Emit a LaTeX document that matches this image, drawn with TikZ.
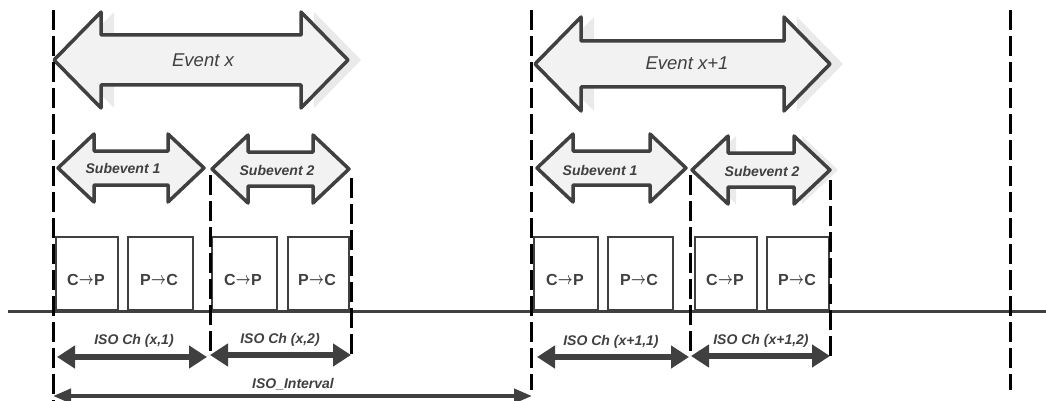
\documentclass[tikz,border=0pt]{standalone}
\usepackage{fontspec}
\setmainfont{Liberation Sans}
\usetikzlibrary{arrows.meta}

\definecolor{ink}{HTML}{404040}
\definecolor{panel}{HTML}{F2F2F2}
\definecolor{shade}{HTML}{EAEAEA}

% Horizontal double-headed block arrow:
% #1 style, #2 left tip x, #3 right tip x, #4 axis y,
% #5 head length, #6 head half-height, #7 shaft half-height
\newcommand{\spanarrow}[7]{%
  \path[#1] (#2,#4) -- (#2+#5,#4-#6) -- (#2+#5,#4-#7) -- (#3-#5,#4-#7)
    -- (#3-#5,#4-#6) -- (#3,#4) -- (#3-#5,#4+#6) -- (#3-#5,#4+#7)
    -- (#2+#5,#4+#7) -- (#2+#5,#4+#6) -- cycle;}

% direction arrow between the two party letters
\newcommand{\flowto}{\kern0.3pt\raisebox{0.06em}{\scalebox{0.75}[1]{\boldmath$\rightarrow$}}\kern0.3pt}

\begin{document}
\begin{tikzpicture}[x=1pt, y=-1pt,
  blockarrow/.style={draw=ink, fill=panel, line width=3.5pt, line join=round},
  blockshadow/.style={fill=shade, xshift=#1},
  eventtext/.style={text=ink, font=\fontsize{18.5}{21}\selectfont\itshape, inner sep=0pt},
  subtext/.style={text=ink, font=\fontsize{14}{16}\selectfont\bfseries\itshape, inner sep=0pt},
  slot/.style={draw=ink, line width=1.8pt, minimum height=73pt, inner sep=0pt, anchor=south west},
  slottext/.style={text=ink, font=\fontsize{16}{18}\selectfont\bfseries, inner sep=0pt},
  isotext/.style={text=ink, font=\fontsize{14}{16}\selectfont\bfseries\itshape, inner sep=0pt},
  boundary/.style={black, line width=3pt, dash pattern=on 20pt off 6pt},
  isoarrow/.style={ink, line width=6.5pt,
    arrows={Triangle[length=18pt,width=22pt]-Triangle[length=18pt,width=22pt]}},
  intervalarrow/.style={ink, line width=4pt,
    arrows={Triangle[length=18pt,width=14pt]-Triangle[length=18pt,width=14pt]}}]

\useasboundingbox (0,0) rectangle (1046,401);

% ---- event and subevent block arrows ----
\spanarrow{blockshadow=13pt}{54}{348}{60}{47}{48}{25}
\spanarrow{blockarrow}{54}{348}{60}{47}{48}{25}
\node[eventtext] (ev1) at (203,60) {Event x};

\spanarrow{blockshadow=13pt}{535}{830}{64}{46}{47}{23}
\spanarrow{blockarrow}{535}{830}{64}{46}{47}{23}
\node[eventtext] (ev2) at (687,63) {Event x+1};

\spanarrow{blockarrow}{58}{204}{168}{36}{34}{17}
\node[subtext] (se11) at (123,168) {Subevent 1};
\spanarrow{blockarrow}{212}{349}{169}{36}{34}{17}
\node[subtext] (se12) at (277,170) {Subevent 2};

\spanarrow{blockarrow}{537}{686}{168}{36}{34}{17}
\node[subtext] (se21) at (600,170) {Subevent 1};
\spanarrow{blockshadow=8pt}{692}{830}{170}{36}{34}{17}
\spanarrow{blockarrow}{692}{830}{170}{36}{34}{17}
\node[subtext] (se22) at (762,171) {Subevent 2};

% ---- transmission slots ----
\node[slot, minimum width=62pt] (s1) at (55,311) {};
\node[slot, minimum width=65pt] (s2) at (127,311) {};
\node[slot, minimum width=65pt] (s3) at (211,311) {};
\node[slot, minimum width=61pt] (s4) at (287,311) {};
\node[slot, minimum width=64pt] (s5) at (533,311) {};
\node[slot, minimum width=65pt] (s6) at (607,311) {};
\node[slot, minimum width=62pt] (s7) at (694,311) {};
\node[slot, minimum width=62pt] (s8) at (766,311) {};

\node[slottext] (l1) at (86,280)  {C\flowto P};
\node[slottext] (l2) at (159,280) {P\flowto C};
\node[slottext] (l3) at (243,280) {C\flowto P};
\node[slottext] (l4) at (317,280) {P\flowto C};
\node[slottext] (l5) at (565,280) {C\flowto P};
\node[slottext] (l6) at (639,280) {P\flowto C};
\node[slottext] (l7) at (725,280) {C\flowto P};
\node[slottext] (l8) at (797,280) {P\flowto C};

% ---- time axis ----
\coordinate (t0) at (8,311);
\coordinate (t1) at (1046,311);
\draw[ink, line width=3pt] (t0) -- (t1);

% ---- event boundaries ----
\coordinate (b1top) at (53,10);   \coordinate (b1bot) at (53,401);
\coordinate (b2top) at (531,10);  \coordinate (b2bot) at (531,390);
\coordinate (b3top) at (1010,10); \coordinate (b3bot) at (1010,390);
\draw[boundary] (b1top) -- (b1bot);
\draw[boundary] (b2top) -- (b2bot);
\draw[boundary] (b3top) -- (b3bot);

% ---- subevent boundaries ----
\coordinate (c1top) at (210,175); \coordinate (c1bot) at (210,353);
\coordinate (c2top) at (351,178); \coordinate (c2bot) at (351,356);
\coordinate (c3top) at (690,175); \coordinate (c3bot) at (690,357);
\coordinate (c4top) at (830,180); \coordinate (c4bot) at (830,357);
\draw[boundary] (c1top) -- (c1bot);
\draw[boundary] (c2top) -- (c2bot);
\draw[boundary] (c3top) -- (c3bot);
\draw[boundary] (c4top) -- (c4bot);

% ---- ISO channel spans ----
\coordinate (i1a) at (57,357);  \coordinate (i1b) at (207,357);
\coordinate (i2a) at (210,355); \coordinate (i2b) at (351,355);
\coordinate (i3a) at (537,357); \coordinate (i3b) at (689,357);
\coordinate (i4a) at (691,356); \coordinate (i4b) at (830,356);
\draw[isoarrow] (i1a) -- (i1b);
\draw[isoarrow] (i2a) -- (i2b);
\draw[isoarrow] (i3a) -- (i3b);
\draw[isoarrow] (i4a) -- (i4b);
\node[isotext] (n1) at (134,341) {ISO Ch (x,1)};
\node[isotext] (n2) at (280,340) {ISO Ch (x,2)};
\node[isotext] (n3) at (611,342) {ISO Ch (x+1,1)};
\node[isotext] (n4) at (761,341) {ISO Ch (x+1,2)};

% ---- ISO interval ----
\coordinate (iva) at (53,396); \coordinate (ivb) at (532,396);
\draw[intervalarrow] (iva) -- (ivb);
\node[isotext] (iv) at (293,384) {ISO\_Interval};

\end{tikzpicture}
\end{document}
